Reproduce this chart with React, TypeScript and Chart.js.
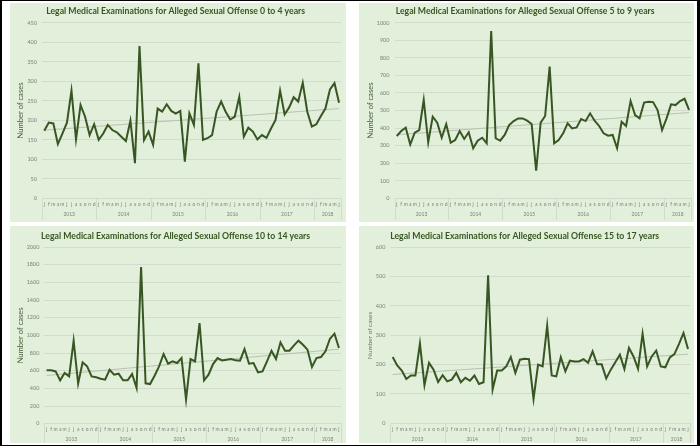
import React, { useEffect, useRef } from 'react';
import { Chart, registerables } from 'chart.js';

Chart.register(...registerables);

// ---------- data ----------
const monthLetters = ['j', 'f', 'm', 'a', 'm', 'j', 'j', 'a', 's', 'o', 'n', 'd'];
const years = ['2013', '2014', '2015', '2016', '2017', '2018'];
const monthsIn2018 = 6;

const age0to4 = [
  173, 194, 192, 139, 166, 194, 276, 151, 239, 209, 162, 190,
  150, 166, 188, 175, 169, 158, 147, 199, 90, 390, 149, 171,
  137, 230, 222, 241, 224, 217, 224, 94, 218, 188, 346, 150,
  154, 162, 222, 248, 222, 202, 209, 260, 158, 181, 171, 151,
  162, 155, 179, 201, 276, 215, 233, 259, 248, 296, 222, 184,
  190, 211, 230, 279, 295, 245,
];
const age5to9 = [
  355, 383, 402, 307, 374, 389, 560, 319, 465, 431, 345, 423,
  317, 332, 383, 338, 376, 285, 328, 345, 313, 953, 342, 328,
  361, 417, 440, 455, 455, 442, 423, 157, 431, 469, 750, 313,
  332, 370, 427, 398, 404, 452, 440, 484, 442, 412, 370, 357,
  361, 285, 436, 412, 554, 474, 455, 545, 550, 548, 503, 389,
  455, 535, 531, 554, 567, 503,
];
const age10to14 = [
  604, 604, 592, 491, 574, 536, 940, 453, 694, 649, 536, 525,
  509, 498, 611, 555, 566, 491, 491, 562, 404, 1774, 457, 449,
  543, 649, 789, 679, 706, 687, 743, 272, 732, 706, 1140, 491,
  555, 675, 743, 717, 725, 732, 717, 713, 845, 679, 687, 581,
  592, 706, 826, 732, 921, 826, 826, 887, 940, 894, 838, 642,
  743, 755, 819, 962, 1019, 857,
];
const age15to17 = [
  226, 197, 180, 151, 163, 163, 272, 130, 206, 183, 141, 164,
  143, 149, 172, 140, 155, 145, 163, 134, 140, 505, 115, 180,
  180, 194, 226, 172, 217, 220, 219, 83, 200, 194, 333, 163,
  160, 225, 177, 214, 211, 211, 219, 206, 245, 201, 201, 153,
  183, 208, 234, 185, 257, 228, 186, 305, 194, 228, 248, 194,
  191, 225, 236, 270, 308, 253,
];

const titles = [
  'Legal Medical Examinations for Alleged Sexual Offense 0 to 4 years',
  'Legal Medical Examinations for Alleged Sexual Offense 5 to 9 years',
  'Legal Medical Examinations for Alleged Sexual Offense 10 to 14 years',
  'Legal Medical Examinations for Alleged Sexual Offense 15 to 17 years',
];
const yAxisTitle = 'Number of cases';
const yMax = [450, 1000, 2000, 600];
const yStep = [50, 100, 200, 100];

// month labels for the category axis
const categories: string[] = [];
years.forEach((y, i) => {
  const count = i === years.length - 1 ? monthsIn2018 : 12;
  for (let m = 0; m < count; m++) categories.push(monthLetters[m]);
});

// linear trendline (least squares, as Excel's linear trendline)
function trendOf(values: number[]): number[] {
  const n = values.length;
  let sx = 0, sy = 0, sxx = 0, sxy = 0;
  values.forEach((v, i) => { sx += i; sy += v; sxx += i * i; sxy += i * v; });
  const b = (n * sxy - sx * sy) / (n * sxx - sx * sx);
  const a = (sy - b * sx) / n;
  return values.map((_, i) => a + b * i);
}

// ---------- styling ----------
const FONT = 'Lato, "Open Sans", "DejaVu Sans", sans-serif';
const PANEL_BG = '#e2efda';
const DARK_GREEN = '#375623';
const GRID = '#d3dccc';
const LABEL_GRAY = '#7f7f7f';

const yearAxisPlugin = {
  id: 'yearAxis',
  afterDraw(chart: any, _args: any, opts: any) {
    const x = chart.scales.x;
    const ctx = chart.ctx;
    const n = chart.data.labels.length;
    const half = (x.getPixelForValue(1) - x.getPixelForValue(0)) / 2;
    ctx.save();
    ctx.font = `5px ${FONT}`;
    ctx.fillStyle = LABEL_GRAY;
    ctx.textAlign = 'center';
    ctx.textBaseline = 'middle';
    ctx.strokeStyle = GRID;
    ctx.lineWidth = 1;
    const axisY = x.top;
    for (let i = 0; i < years.length; i++) {
      const start = i * 12;
      const end = Math.min(start + 12, n) - 1;
      const l = x.getPixelForValue(start) - half;
      const r = x.getPixelForValue(end) + half;
      ctx.fillText(years[i], (l + r) / 2, axisY + opts.yearOffset);
      [l, r].forEach((px) => {
        ctx.beginPath();
        ctx.moveTo(Math.round(px) + 0.5, axisY);
        ctx.lineTo(Math.round(px) + 0.5, axisY + opts.yearOffset + 5);
        ctx.stroke();
      });
    }
    ctx.restore();
  },
};

type PanelCfg = {
  left: number; top: number; width: number; height: number;
  title: string; values: number[]; max: number; step: number;
  yAxisW: number; rightPad: number; titlePadTop: number; titlePadBottom: number;
  xAxisH: number; monthPad: number; yearOffset: number;
  yTitlePad: number; yTitleSize: number; yTitleColor: string;
};

function Panel(c: PanelCfg) {
  const ref = useRef<HTMLCanvasElement>(null);
  useEffect(() => {
    const chart = new Chart(ref.current as HTMLCanvasElement, {
      type: 'line',
      data: {
        labels: categories,
        datasets: [
          {
            data: c.values,
            borderColor: DARK_GREEN,
            borderWidth: 2,
            pointRadius: 0,
            tension: 0,
            order: 0,
          },
          {
            data: trendOf(c.values),
            borderColor: '#b7c2ac',
            borderWidth: 1,
            pointRadius: 0,
            tension: 0,
            order: 1,
          },
        ],
      },
      options: {
        animation: false,
        responsive: true,
        maintainAspectRatio: false,
        layout: { padding: { left: 0, right: c.rightPad, top: 0, bottom: 0 } },
        plugins: {
          legend: { display: false },
          tooltip: { enabled: false },
          title: {
            display: true,
            text: c.title,
            color: DARK_GREEN,
            font: { family: FONT, size: 8.7, weight: 'bold' },
            padding: { top: c.titlePadTop, bottom: c.titlePadBottom },
          },
          // @ts-ignore
          yearAxis: { yearOffset: c.yearOffset },
        },
        scales: {
          x: {
            type: 'category',
            offset: true,
            grid: { display: false, drawTicks: false },
            border: { display: true, color: GRID },
            ticks: {
              autoSkip: false,
              maxRotation: 0,
              minRotation: 0,
              padding: c.monthPad,
              color: LABEL_GRAY,
              font: { family: FONT, size: 5 },
            },
            afterFit: (s: any) => { s.height = c.xAxisH; },
          },
          y: {
            min: 0,
            max: c.max,
            ticks: {
              stepSize: c.step,
              padding: 5,
              color: LABEL_GRAY,
              font: { family: FONT, size: 5.5 },
              callback: (v: any) => String(v),
            },
            grid: { color: GRID, drawTicks: false },
            border: { display: false },
            title: {
              display: true,
              text: yAxisTitle,
              color: c.yTitleColor,
              font: { family: FONT, size: c.yTitleSize },
              padding: { top: c.yTitlePad, bottom: 0 },
            },
            afterFit: (s: any) => { s.width = c.yAxisW; },
          },
        },
      },
      plugins: [yearAxisPlugin],
    } as any);
    return () => chart.destroy();
  }, []);
  return (
    <div
      style={{
        position: 'absolute',
        left: c.left,
        top: c.top,
        width: c.width,
        height: c.height,
        background: PANEL_BG,
      }}
    >
      <canvas ref={ref} />
    </div>
  );
}

const panels: PanelCfg[] = [
  {
    left: 10, top: 3, width: 336, height: 219, title: titles[0], values: age0to4,
    max: yMax[0], step: yStep[0], yAxisW: 32, rightPad: 4.7, titlePadTop: 2.8, titlePadBottom: 6.5,
    xAxisH: 23.7, monthPad: 3.4, yearOffset: 16.5, yTitlePad: 6.2, yTitleSize: 7.6, yTitleColor: '#4a5e3c',
  },
  {
    left: 359, top: 3, width: 335, height: 219, title: titles[1], values: age5to9,
    max: yMax[1], step: yStep[1], yAxisW: 35.5, rightPad: 2.7, titlePadTop: 2.8, titlePadBottom: 6.5,
    xAxisH: 23.7, monthPad: 3.4, yearOffset: 16.5, yTitlePad: 7.2, yTitleSize: 7.6, yTitleColor: '#4a5e3c',
  },
  {
    left: 10, top: 226, width: 336, height: 217, title: titles[2], values: age10to14,
    max: yMax[2], step: yStep[2], yAxisW: 34.4, rightPad: 4.8, titlePadTop: 4.5, titlePadBottom: 6.1,
    xAxisH: 19.3, monthPad: 3.0, yearOffset: 15.3, yTitlePad: 6.2, yTitleSize: 7.6, yTitleColor: '#4a5e3c',
  },
  {
    left: 359, top: 226, width: 335, height: 217, title: titles[3], values: age15to17,
    max: yMax[3], step: yStep[3], yAxisW: 31.4, rightPad: 3.7, titlePadTop: 4.5, titlePadBottom: 6.4,
    xAxisH: 19.7, monthPad: 3.4, yearOffset: 15.7, yTitlePad: 7.3, yTitleSize: 6.4, yTitleColor: '#6f6f6f',
  },
];

export default function App() {
  return (
    <div style={{ position: 'absolute', left: 0, top: 0, width: 700, height: 446, background: '#000' }}>
      <div style={{ position: 'absolute', left: 1.5, top: 1.3, width: 695.5, height: 443.5, background: '#fff' }}>
        {panels.map((p, i) => (
          <Panel key={i} {...p} left={p.left - 1.5} top={p.top - 1.3} />
        ))}
      </div>
    </div>
  );
}
